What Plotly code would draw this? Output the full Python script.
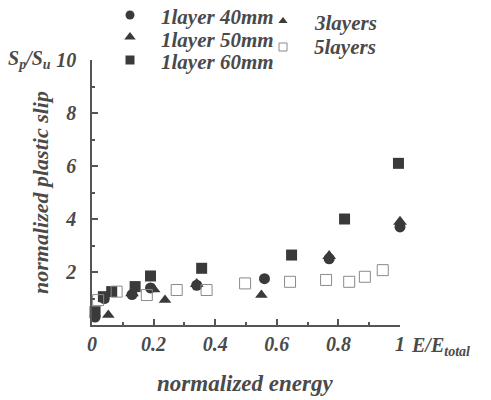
import plotly.graph_objects as go

# 1layer 40mm (filled circles)
x40 = [0.01, 0.04, 0.13, 0.19, 0.34, 0.56, 0.77, 1.0]
y40 = [0.3, 1.0, 1.15, 1.4, 1.5, 1.75, 2.5, 3.7]
# 1layer 50mm (filled triangles)
x50 = [0.13, 0.2, 0.34, 0.77, 1.0]
y50 = [1.2, 1.35, 1.55, 2.6, 3.9]
# 1layer 60mm (filled squares)
x60 = [0.01, 0.037, 0.064, 0.14, 0.19, 0.356, 0.648, 0.82, 0.995]
y60 = [0.5, 1.07, 1.26, 1.45, 1.85, 2.14, 2.64, 4.0, 6.1]
# 3layers (small filled triangles)
x3 = [0.053, 0.237, 0.55]
y3 = [0.38, 0.94, 1.13]
# 5layers (hollow squares)
x5 = [0.02, 0.08, 0.178, 0.275, 0.372, 0.497, 0.643, 0.76, 0.835, 0.886, 0.944]
y5 = [0.94, 1.26, 1.13, 1.32, 1.32, 1.57, 1.63, 1.7, 1.63, 1.82, 2.07]

series_names = ["1layer 40mm", "1layer 50mm", "1layer 60mm", "3layers", "5layers"]

xticks = [0, 0.2, 0.4, 0.6, 0.8, 1]
xticklabels = ["0", "0.2", "0.4", "0.6", "0.8", "1"]
yticks = [2, 4, 6, 8, 10]
yticklabels = ["2", "4", "6", "8", "10"]

W, H = 491, 400
DARK = "#3a3a3a"
TXT = "#4a4a4a"
FONT = dict(family="Liberation Serif", size=20, color=TXT, weight="bold", style="italic")
FONT_T = dict(FONT, size=22)
FONT_L = dict(FONT, size=21)

styles = [
    dict(symbol="circle", size=11, color=DARK),
    dict(symbol="triangle-up", size=12, color=DARK),
    dict(symbol="square", size=11, color=DARK),
    dict(symbol="triangle-up", size=11, color=DARK),
    dict(symbol="square-open", size=11, color="#8a8a8a", line=dict(width=1)),
]
data = [(x40, y40), (x50, y50), (x60, y60), (x3, y3), (x5, y5)]

fig = go.Figure()
for (xs, ys), name, st in zip(data, series_names, styles):
    fig.add_trace(go.Scatter(x=xs, y=ys, mode="markers", name=name, marker=st,
                             cliponaxis=False, showlegend=False))

# Legend key, drawn on a full-figure overlay axis in pixel units
key_x = [130, 130, 130, 283, 283]
key_y = [15, 37, 60, 21, 47]
key_sizes = [9, 10, 9, 8, 8]
text_x = [159, 159, 159, 312, 312]
text_y = [17, 40, 62, 23, 47]
for i, (name, st) in enumerate(zip(series_names, styles)):
    st2 = dict(st, size=key_sizes[i])
    fig.add_trace(go.Scatter(x=[key_x[i]], y=[key_y[i]], mode="markers", marker=st2,
                             xaxis="x2", yaxis="y2", cliponaxis=False, showlegend=False,
                             hoverinfo="skip"))
    fig.add_annotation(text=name, xref="x2", yref="y2", x=text_x[i], y=text_y[i],
                       showarrow=False, font=FONT_L, xanchor="left", yanchor="middle")

axis_common = dict(showgrid=False, zeroline=False, showline=True, linecolor="#555", linewidth=1.5,
                   ticks="inside", ticklen=6, tickcolor="#555", tickwidth=1.5,
                   tickfont=FONT, automargin=False)

fig.update_layout(
    width=W, height=H, plot_bgcolor="rgba(0,0,0,0)", paper_bgcolor="white",
    margin=dict(l=0, r=0, t=0, b=0, autoexpand=False),
    xaxis=dict(domain=[92 / W, 400 / W], range=[0, 1], tickvals=xticks, ticktext=xticklabels,
               minor=dict(ticks="inside", dtick=0.1, ticklen=3, tickcolor="#555"),
               ticklabelstandoff=0, **axis_common),
    yaxis=dict(domain=[75 / H, 340 / H], range=[0, 10], tickvals=yticks, ticktext=yticklabels,
               minor=dict(ticks="inside", dtick=1, ticklen=3, tickcolor="#555"),
               ticklabelstandoff=10,
               title=dict(text="normalized plastic slip", font=FONT_T, standoff=2), **axis_common),
    xaxis2=dict(domain=[0, 1], anchor="y2", range=[0, W], visible=False),
    yaxis2=dict(domain=[0, 1], anchor="x2", range=[H, 0], visible=False),
    showlegend=False,
)

fig.add_annotation(text="normalized energy", xref="x2", yref="y2", x=245, y=383,
                   showarrow=False, font=dict(FONT, size=23), xanchor="center", yanchor="middle")
fig.add_annotation(text="E/E<sub>total</sub>", xref="x2", yref="y2", x=409, y=346,
                   showarrow=False, font=FONT, xanchor="left", yanchor="middle")
fig.add_annotation(text="S<sub>p</sub>/S<sub>u</sub>", xref="x2", yref="y2", x=6, y=59,
                   showarrow=False, font=FONT, xanchor="left", yanchor="middle")

fig.write_html("out.html")
